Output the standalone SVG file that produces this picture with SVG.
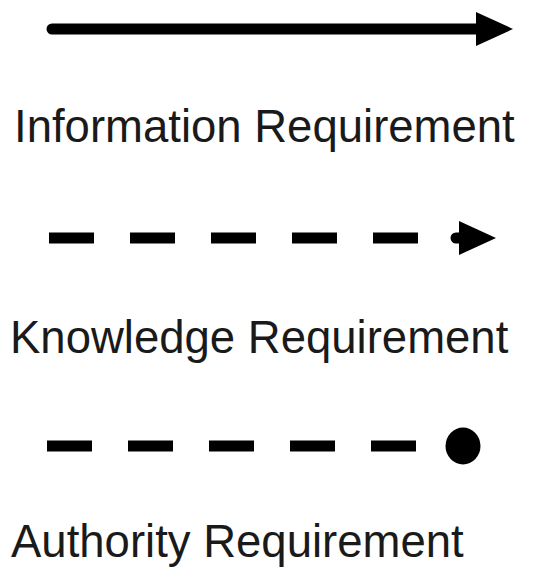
<svg xmlns="http://www.w3.org/2000/svg" width="545" height="568" viewBox="0 0 545 568">
<style>
.ln{stroke:#000;stroke-width:11;fill:none;stroke-linecap:round}
.dash{stroke:#000;stroke-width:11;fill:none;stroke-linecap:butt;stroke-dasharray:45 36;stroke-linejoin:round}
.head{fill:#000}
.lbl{font-family:"Liberation Sans",Arial,sans-serif;font-size:45.5px;fill:#1a1a1a}
</style>
<rect width="545" height="568" fill="#fff"/>
<g id="connectors">
<g id="information">
<line class="ln" x1="52" y1="29" x2="482" y2="29"/>
<polygon class="head" points="476,12 513,29 476,46"/>
</g>
<g id="knowledge">
<line class="dash" x1="49" y1="238" x2="420" y2="238"/>
<line class="ln" x1="456" y1="238" x2="462" y2="238"/>
<polygon class="head" points="459,221 496,238 459,255"/>
</g>
<g id="authority">
<line class="dash" x1="47" y1="446" x2="418" y2="446"/>
<ellipse class="head" cx="463" cy="446" rx="17.5" ry="18.5"/>
</g>
</g>
<g id="labels">
<text class="lbl" x="14" y="142">Information Requirement</text>
<text class="lbl" x="10" y="353">Knowledge Requirement</text>
<text class="lbl" x="11" y="557">Authority Requirement</text>
</g>
</svg>
